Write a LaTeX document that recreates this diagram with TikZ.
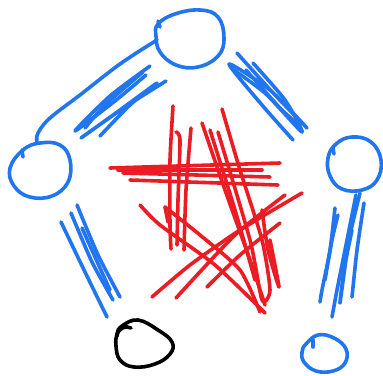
\documentclass[tikz,border=0pt]{standalone}
\definecolor{pb}{RGB}{33,118,240}
\definecolor{pr}{RGB}{236,28,36}
\begin{document}
\begin{tikzpicture}[x=1pt,y=-1pt,line cap=round,line join=round,
  pen/.style={line width=3.6pt},
  bl/.style={pen,draw=pb},
  rd/.style={pen,draw=pr},
  bk/.style={pen,draw=black}]
\useasboundingbox[fill=white] (0,0) rectangle (383,375);
% circles
\draw[bl] plot[smooth cycle,tension=0.7] coordinates {(158,24) (175,14) (200,10) (218,17) (224,38) (218,56) (198,67) (176,65) (160,52) (156,36)};
\draw[bl] (158,21)--(160,27);
\draw[bl] plot[smooth cycle,tension=0.7] coordinates {(23,150) (40,143) (60,145) (70,160) (68,182) (52,196) (30,197) (14,186) (10,168)};
\draw[bl] (22,150)--(23,157);
\draw[bl] plot[smooth cycle,tension=0.7] coordinates {(336,144) (352,137) (371,142) (381,160) (377,180) (362,190) (342,189) (330,176) (328,158)};
\draw[bl] (333,148)--(334,154);
\draw[bl] plot[smooth cycle,tension=0.7] coordinates {(306,344) (318,335) (334,338) (346,349) (345,363) (333,371) (316,371) (304,362) (302,352)};
\draw[bl] (313,340)--(313,347);
\draw[bk] plot[smooth cycle,tension=0.7] coordinates {(122,326) (138,320) (158,330) (172,342) (170,354) (155,364) (134,367) (120,360) (116,346) (117,334)};
\draw[bk] (117,336)..controls (118,328) and (126,325)..(131,328);
% top-left connector and scribble
\draw[bl] plot[smooth,tension=0.6] coordinates {(157,40) (120,64) (80,95) (50,118) (38,133) (37,142)};
\draw[bl] plot[smooth,tension=0.4] coordinates {(150,66) (110,96) (75,131) (115,101) (146,75)};
\draw[bl] plot[smooth,tension=0.4] coordinates {(166,81) (125,107) (81,138) (120,110) (157,83) (130,105) (100,136)};
\draw[bl] plot[smooth,tension=0.4] coordinates {(143,72) (105,105) (85,128)};
% top-right scribble
\draw[bl] plot[smooth,tension=0.4] coordinates {(237,53) (275,95) (307,128) (270,90) (229,64) (262,105) (293,140)};
\draw[bl] plot[smooth,tension=0.4] coordinates {(253,63) (285,100) (302,132) (266,94) (234,70)};
\draw[bl] plot[smooth,tension=0.4] coordinates {(246,70) (280,108) (300,126)};
% lower-left scribble
\draw[bl] plot[smooth,tension=0.4] coordinates {(61,222) (85,272) (107,317)};
\draw[bl] plot[smooth,tension=0.4] coordinates {(71,213) (92,262) (113,300)};
\draw[bl] plot[smooth,tension=0.4] coordinates {(77,205) (98,255) (120,297)};
\draw[bl] plot[smooth,tension=0.4] coordinates {(82,228) (100,268) (110,290)};
% lower-right scribble
\draw[bl] plot[smooth,tension=0.4] coordinates {(335,208) (330,250) (322,290) (320,302)};
\draw[bl] plot[smooth,tension=0.4] coordinates {(356,195) (345,250) (337,290) (332,317)};
\draw[bl] plot[smooth,tension=0.4] coordinates {(364,203) (357,250) (352,297)};
\draw[bl] plot[smooth,tension=0.4] coordinates {(360,193) (349,240) (340,303) (344,270) (352,230)};
\draw[bl] plot[smooth,tension=0.4] coordinates {(325,280) (332,240) (338,215)};
% red star scribble
\draw[rd] (110,168)--(280,163);
\draw[rd] (123,173)--(270,177);
\draw[rd] (130,180)--(278,185);
\draw[rd] (118,170)--(262,170);
\draw[rd] plot[smooth,tension=0.4] coordinates {(173,106) (170,160) (170,225) (171,249)};
\draw[rd] plot[smooth,tension=0.4] coordinates {(191,128) (186,190) (184,250)};
\draw[rd] plot[smooth,tension=0.4] coordinates {(176,132) (180,140) (178,200) (177,245)};
\draw[rd] plot[smooth,tension=0.4] coordinates {(165,207) (168,222)};
\draw[rd] plot[smooth,tension=0.4] coordinates {(202,123) (225,190) (250,260) (265,305)};
\draw[rd] plot[smooth,tension=0.4] coordinates {(222,109) (240,170) (262,240) (270,290) (262,300) (250,240) (218,132)};
\draw[rd] plot[smooth,tension=0.4] coordinates {(210,130) (235,210) (255,280)};
\draw[rd] plot[smooth,tension=0.4] coordinates {(140,205) (160,225) (215,265) (265,313)};
\draw[rd] plot[smooth,tension=0.4] coordinates {(165,207) (200,235) (240,270) (260,312)};
\draw[rd] plot[smooth,tension=0.4] coordinates {(302,193) (240,230) (190,265) (152,297)};
\draw[rd] plot[smooth,tension=0.4] coordinates {(285,195) (235,235) (176,298)};
\draw[rd] plot[smooth,tension=0.4] coordinates {(280,223) (240,255) (207,287)};
\draw[rd] plot[smooth,tension=0.4] coordinates {(262,210) (268,250) (279,287) (270,240)};
\end{tikzpicture}
\end{document}
